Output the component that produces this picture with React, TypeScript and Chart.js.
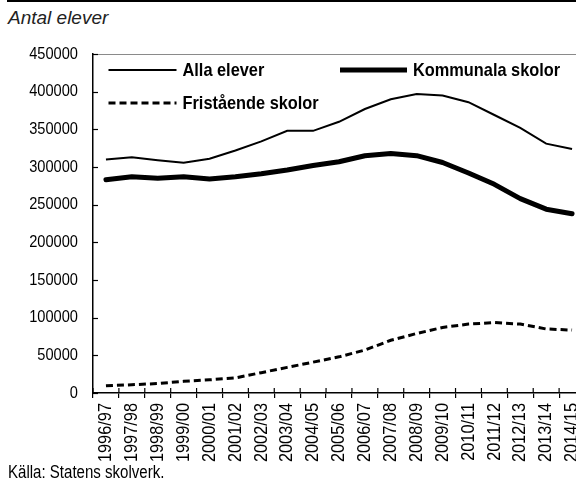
import React, { useEffect, useRef } from "react";
import { Chart, registerables } from "chart.js";

Chart.register(...registerables);

const titleText = "Antal elever";
const sourceText = "Källa: Statens skolverk.";

const categories = [
  "1996/97", "1997/98", "1998/99", "1999/00", "2000/01", "2001/02", "2002/03",
  "2003/04", "2004/05", "2005/06", "2006/07", "2007/08", "2008/09", "2009/10",
  "2010/11", "2011/12", "2012/13", "2013/14", "2014/15",
];

const seriesNames = ["Alla elever", "Kommunala skolor", "Fristående skolor"];

const allaElever = [
  310000, 313000, 309000, 305500, 311000, 322000, 334000, 348000, 348000, 360000,
  377000, 390000, 397000, 395000, 386000, 369000, 352000, 331000, 324000,
];

const kommunalaSkolor = [
  283000, 287000, 285000, 287000, 284000, 287000, 291000, 296000, 302000, 307000,
  315000, 318000, 315000, 306000, 292000, 277000, 258000, 244000, 238000,
];

const friståendeSkolor = [
  9500, 11000, 12500, 15500, 17500, 20000, 27000, 34000, 41000, 48000,
  57000, 70000, 79000, 87000, 91500, 93500, 91500, 85000, 83500,
];

const yMin = 0;
const yMax = 450000;
const yStep = 50000;

const FONT = '"Liberation Sans", Arial, sans-serif';
const SQUEEZE = 0.86;

const extrasPlugin = {
  id: "extras",
  afterDraw(chart: any) {
    const { ctx, chartArea } = chart;
    const xs = chart.scales.x;
    const ys = chart.scales.y;
    ctx.save();
    // top border of plot box
    ctx.strokeStyle = "#8a8a8a";
    ctx.lineWidth = 1;
    ctx.beginPath();
    ctx.moveTo(chartArea.left, chartArea.top + 0.5);
    ctx.lineTo(chartArea.right, chartArea.top + 0.5);
    ctx.stroke();
    // inner x ticks
    ctx.strokeStyle = "#000";
    ctx.lineWidth = 1.2;
    const n = categories.length;
    for (let i = 0; i <= n; i++) {
      const px = xs.left + (i * xs.width) / n;
      ctx.beginPath();
      ctx.moveTo(px, chartArea.bottom - 5);
      ctx.lineTo(px, chartArea.bottom);
      ctx.stroke();
    }
    // inner y ticks
    ys.ticks.forEach((t: any) => {
      const py = Math.round(ys.getPixelForValue(t.value)) + 0.5;
      ctx.beginPath();
      ctx.moveTo(chartArea.left, py);
      ctx.lineTo(chartArea.left + 5, py);
      ctx.stroke();
    });

    // condensed tick labels
    ctx.fillStyle = "#000";
    ctx.font = `17px ${FONT}`;
    ys.ticks.forEach((t: any) => {
      const py = ys.getPixelForValue(t.value);
      ctx.save();
      ctx.translate(chartArea.left - 15, py);
      ctx.scale(SQUEEZE, 1);
      ctx.textAlign = "right";
      ctx.textBaseline = "middle";
      ctx.fillText(String(t.value), 0, 0);
      ctx.restore();
    });
    ctx.font = `19px ${FONT}`;
    categories.forEach((c, i) => {
      const px = xs.getPixelForValue(i);
      ctx.save();
      ctx.translate(px, chartArea.bottom + 10);
      ctx.rotate(-Math.PI / 2);
      ctx.scale(SQUEEZE, 1);
      ctx.textAlign = "right";
      ctx.textBaseline = "middle";
      ctx.fillText(c, 0, 0);
      ctx.restore();
    });

    // legend
    const slots = [
      { ds: 0, x: chartArea.left + 15.5, y: chartArea.top + 16, len: 68 },
      { ds: 1, x: chartArea.left + 247, y: chartArea.top + 16, len: 67 },
      { ds: 2, x: chartArea.left + 15.5, y: chartArea.top + 49, len: 68 },
    ];
    slots.forEach((s) => {
      const d = chart.data.datasets[s.ds];
      ctx.beginPath();
      ctx.setLineDash(d.borderDash || []);
      ctx.lineWidth = d.borderWidth;
      ctx.strokeStyle = d.borderColor;
      ctx.lineCap = "butt";
      ctx.moveTo(s.x, s.y);
      ctx.lineTo(s.x + s.len, s.y);
      ctx.stroke();
      ctx.setLineDash([]);
      ctx.save();
      ctx.translate(s.x + s.len + 6, s.y + 1);
      ctx.scale(SQUEEZE, 1);
      ctx.fillStyle = "#000";
      ctx.font = `bold 19px ${FONT}`;
      ctx.textBaseline = "middle";
      ctx.textAlign = "left";
      ctx.fillText(d.label, 0, 0);
      ctx.restore();
    });
    ctx.restore();
  },
};

export default function App() {
  const canvasRef = useRef<HTMLCanvasElement | null>(null);

  useEffect(() => {
    const canvas = canvasRef.current;
    if (!canvas) return;
    const chart = new Chart(canvas, {
      type: "line",
      data: {
        labels: categories,
        datasets: [
          {
            label: seriesNames[0],
            data: allaElever,
            borderColor: "#000",
            borderWidth: 2,
            pointRadius: 0,
            tension: 0,
            fill: false,
          },
          {
            label: seriesNames[1],
            data: kommunalaSkolor,
            borderColor: "#000",
            borderWidth: 5,
            borderCapStyle: "round",
            borderJoinStyle: "round",
            pointRadius: 0,
            tension: 0,
            fill: false,
          },
          {
            label: seriesNames[2],
            data: friståendeSkolor,
            borderColor: "#000",
            borderWidth: 3,
            borderDash: [7, 4],
            pointRadius: 0,
            tension: 0,
            fill: false,
          },
        ],
      },
      options: {
        responsive: false,
        animation: false,
        devicePixelRatio: 1,
        layout: { padding: { top: 54, right: 15, left: 0, bottom: 0 } },
        plugins: {
          legend: { display: false },
          tooltip: { enabled: false },
          title: { display: false },
        },
        scales: {
          x: {
            type: "category",
            offset: true,
            grid: {
              offset: true,
              drawOnChartArea: false,
              drawTicks: true,
              tickLength: 5,
              color: "#000",
              lineWidth: 1.2,
            },
            border: { display: true, color: "#000", width: 1.5 },
            ticks: { display: false, autoSkip: false },
            afterFit(scale: any) {
              scale.height = 88;
            },
          },
          y: {
            min: yMin,
            max: yMax,
            ticks: { display: false, stepSize: yStep },
            grid: { display: true, drawOnChartArea: false, drawTicks: false },
            border: { display: true, color: "#000", width: 1.5 },
            afterFit(scale: any) {
              scale.width = 93;
            },
          },
        },
      },
      plugins: [extrasPlugin],
    });
    return () => chart.destroy();
  }, []);

  return (
    <div
      style={{
        position: "fixed",
        left: 0,
        top: 0,
        width: 576,
        height: 481,
        overflow: "hidden",
        background: "#fff",
      }}
    >
      <div style={{ position: "absolute", left: 7, top: 0, width: 569, height: 2, background: "#000" }} />
      <div
        style={{
          position: "absolute",
          left: 8,
          top: 7,
          fontFamily: '"Liberation Sans", Arial, sans-serif',
          fontStyle: "italic",
          fontSize: 19,
          lineHeight: "22px",
          color: "#222",
          whiteSpace: "nowrap",
        }}
      >
        {titleText}
      </div>
      <canvas ref={canvasRef} width={600} height={481} style={{ position: "absolute", left: 0, top: 0, width: 600, height: 481 }} />
      <div
        style={{
          position: "absolute",
          left: 8,
          top: 463,
          fontFamily: FONT,
          fontSize: 17.5,
          lineHeight: "18px",
          color: "#000",
          whiteSpace: "nowrap",
          transform: `scaleX(${SQUEEZE})`,
          transformOrigin: "0 0",
        }}
      >
        {sourceText}
      </div>
    </div>
  );
}
